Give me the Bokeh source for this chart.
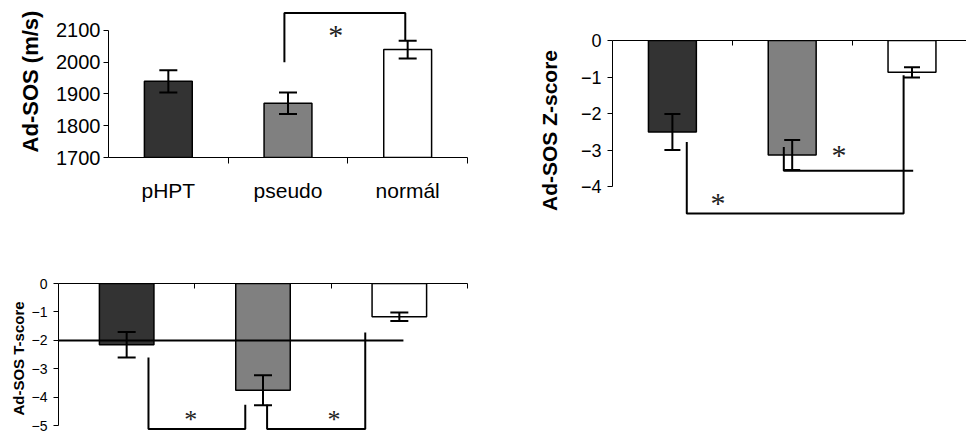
from bokeh.plotting import figure
from bokeh.models import ColumnDataSource, Whisker, TeeHead, FixedTicker, LinearAxis, Range1d
from bokeh.layouts import column, row
from bokeh.core.properties import value
from bokeh.embed import file_html
from bokeh.resources import INLINE

# ---------------- data ----------------
groups = ["pHPT", "pseudo", "normál"]
x_pos = [0.5, 1.5, 2.5]
bar_colors = ["#333333", "#808080", "#ffffff"]

sos_mean = [1940, 1871, 2040]
sos_err = [35, 34, 28]
sos_ticks = [1700, 1800, 1900, 2000, 2100]

z_mean = [-2.50, -3.13, -0.87]
z_err = [0.49, 0.41, 0.14]
z_ticks = [0, -1, -2, -3, -4]

t_mean = [-2.15, -3.75, -1.17]
t_err = [0.45, 0.53, 0.15]
t_ticks = [0, -1, -2, -3, -4, -5]
t_threshold = -2

# significance brackets (data coordinates)
sos_br_x = [1.47, 1.47, 2.48, 2.48]
sos_br_y = [2000, 2155, 2155, 2068]
sos_star_x = [1.90]
sos_star_y = [2088]

z_br1_x = [0.62, 0.62, 2.43, 2.43]
z_br1_y = [-2.77, -4.73, -4.73, -0.95]
z_br2_x = [1.43, 1.43, 2.51]
z_br2_y = [-2.91, -3.56, -3.56]
z_star_x = [0.88, 1.89]
z_star_y = [-4.42, -3.12]

t_br1_x = [0.66, 0.66, 1.37, 1.37]
t_br1_y = [-2.60, -5.11, -5.11, -4.26]
t_br2_x = [1.53, 1.53, 2.25, 2.25]
t_br2_y = [-4.26, -5.11, -5.11, -1.72]
t_line_x = [0, 2.53]
t_star_x = [0.97, 2.02]
t_star_y = [-4.78, -4.78]

SANS = "Liberation Sans"
SERIF = "Liberation Serif"


def base_fig(width, height, x_end, y_start, y_end, left, right, top, bottom):
    p = figure(width=width, height=height,
               x_range=Range1d(0, x_end), y_range=Range1d(y_start, y_end),
               output_backend="svg", toolbar_location=None,
               x_axis_location=None, y_axis_location=None,
               min_border_left=left, min_border_right=right,
               min_border_top=top, min_border_bottom=bottom)
    p.outline_line_color = None
    p.grid.visible = False
    p.background_fill_color = "white"
    p.border_fill_color = "white"
    return p


def y_axis(p, ticks, bounds, label, tick_size, label_size, standoff, label_standoff):
    ax = LinearAxis(ticker=FixedTicker(ticks=ticks), bounds=bounds,
                    axis_label=label,
                    axis_label_text_font=SANS, axis_label_text_font_style="bold",
                    axis_label_text_font_size=label_size,
                    axis_label_text_color="black",
                    axis_label_standoff=label_standoff,
                    major_label_text_font=SANS, major_label_text_font_size=tick_size,
                    major_label_text_color="black",
                    major_label_standoff=standoff,
                    major_tick_out=5, major_tick_in=0,
                    minor_tick_out=0, minor_tick_in=0,
                    axis_line_color="black", major_tick_line_color="black")
    p.add_layout(ax, "left")


def top_axis(p, ticks):
    ax = LinearAxis(ticker=FixedTicker(ticks=ticks),
                    major_label_overrides={t: "" for t in ticks},
                    major_tick_in=5, major_tick_out=0,
                    minor_tick_in=0, minor_tick_out=0,
                    axis_line_color="black", major_tick_line_color="black")
    p.add_layout(ax, "above")


def bars(p, means, errs, base, head):
    p.vbar(x=x_pos, width=0.4, top=base, bottom=means, fill_color=bar_colors,
           line_color="black", line_width=1.5)
    src = ColumnDataSource(dict(x=x_pos,
                                upper=[m + e for m, e in zip(means, errs)],
                                lower=[m - e for m, e in zip(means, errs)]))
    p.add_layout(Whisker(source=src, base="x", upper="upper", lower="lower",
                         level="overlay",
                         line_color="black", line_width=2,
                         upper_head=TeeHead(size=head, line_width=2, line_color="black"),
                         lower_head=TeeHead(size=head, line_width=2, line_color="black")))


def stars(p, xs, ys, size):
    p.text(x=xs, y=ys, text=["*"] * len(xs), text_font=value(SERIF),
           text_font_size=size, text_align="center", text_baseline="middle",
           text_color="#222222")


# ---------------- chart 1 ----------------
p1 = base_fig(483, 230, 3, 1700, 2178.7, 108, 16, 5, 73)
y_axis(p1, sos_ticks, (1700, 2100), "Ad-SOS (m/s)", "20px", "22px", 3, 10)
xax = LinearAxis(ticker=FixedTicker(ticks=x_pos, minor_ticks=[1, 2, 3]),
                 major_label_overrides={x: g for x, g in zip(x_pos, groups)},
                 major_label_text_font=SANS, major_label_text_font_size="21px",
                 major_label_text_color="black",
                 major_label_standoff=15,
                 major_tick_out=0, major_tick_in=0,
                 minor_tick_out=6, minor_tick_in=0,
                 axis_line_color="black", minor_tick_line_color="black")
p1.add_layout(xax, "below")
bars(p1, sos_mean, sos_err, 1700, 18)
p1.line(sos_br_x, sos_br_y, line_color="black", line_width=2)
stars(p1, sos_star_x, sos_star_y, "30px")

# ---------------- chart 2 ----------------
p2 = base_fig(483, 230, 2.955, -4.918, 0, 129, 0, 40, 10)
y_axis(p2, z_ticks, (-4, 0), "Ad-SOS Z-score", "18px", "21px", 6, 17)
top_axis(p2, [1, 2])
bars(p2, z_mean, z_err, 0, 16)
p2.line(z_br1_x, z_br1_y, line_color="black", line_width=2)
p2.line(z_br2_x, z_br2_y, line_color="black", line_width=2)
stars(p2, z_star_x, z_star_y, "30px")

# ---------------- chart 3 ----------------
p3 = base_fig(483, 203, 3, -5.27, 0, 58, 16, 53, 0)
y_axis(p3, t_ticks, (-5, 0), "Ad-SOS T-score", "14px", "15px", 6, 2)
top_axis(p3, [1, 2, 3])
bars(p3, t_mean, t_err, 0, 18)
p3.line(t_line_x, [t_threshold, t_threshold], line_color="black", line_width=2)
p3.line(t_br1_x, t_br1_y, line_color="black", line_width=2)
p3.line(t_br2_x, t_br2_y, line_color="black", line_width=2)
stars(p3, t_star_x, t_star_y, "26px")

layout = column(row(column(p1), column(p2)), p3)
open("out.html", "w").write(file_html(layout, INLINE))
